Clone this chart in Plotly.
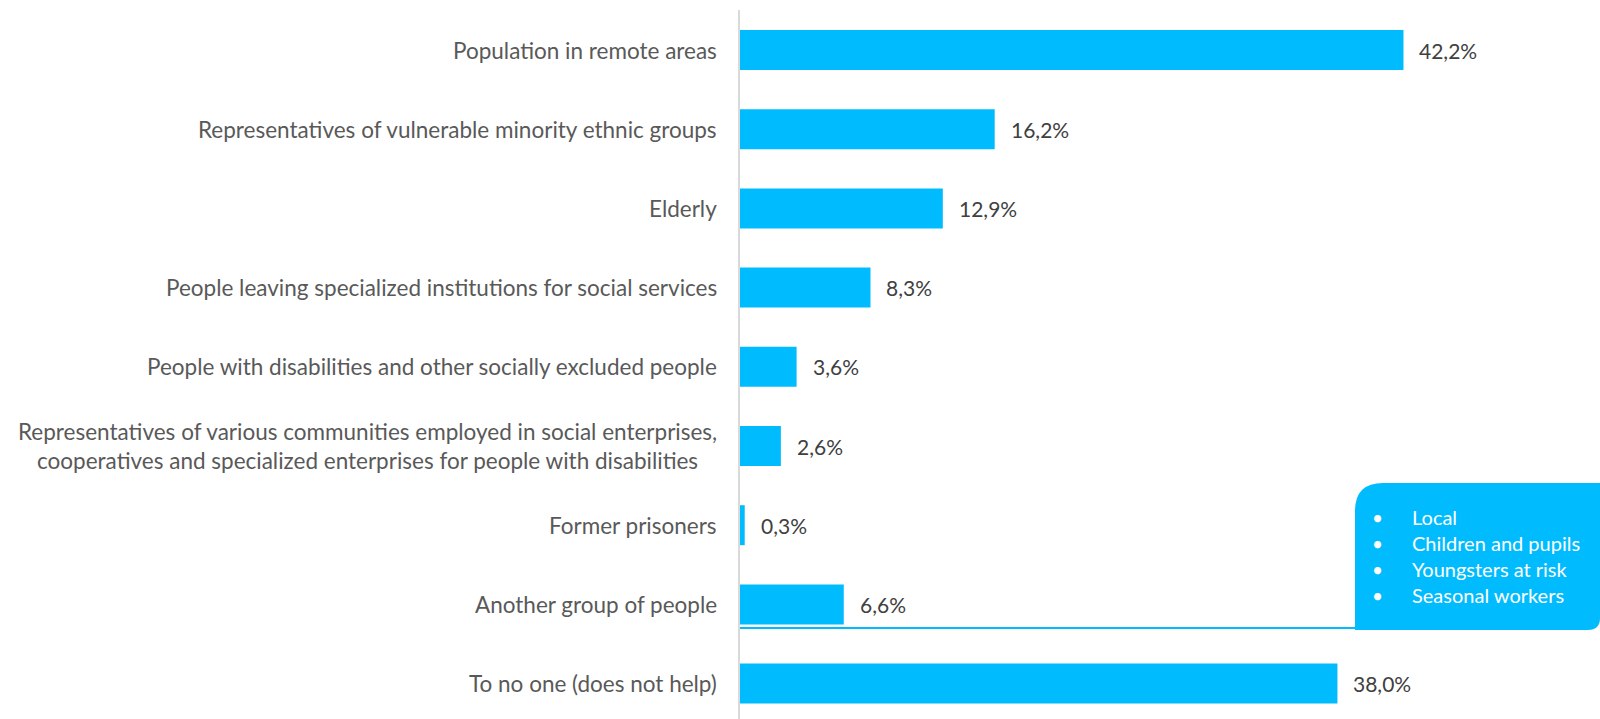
import plotly.graph_objects as go

# Target groups and the share of respondents helping each
categories = [
    "Population in remote areas",
    "Representatives of vulnerable minority ethnic groups",
    "Elderly",
    "People leaving specialized institutions for social services",
    "People with disabilities and other socially excluded people",
    "Representatives of various communities employed in social enterprises,<br>cooperatives and specialized enterprises for people with disabilities",
    "Former prisoners",
    "Another group of people",
    "To no one (does not help)",
]
shares = [42.2, 16.2, 12.9, 8.3, 3.6, 2.6, 0.3, 6.6, 38.0]

# Groups named under "Another group of people"
other_groups = ["Local", "Children and pupils", "Youngsters at risk", "Seasonal workers"]

W, H = 1600, 719
ML, MR, MT, MB = 740, 0, 10, 0
BLUE = "#00BCFF"
FONT = "Lato"


def fmt(v):
    return f"{v:.1f}".replace(".", ",") + "%"


fig = go.Figure()
fig.add_trace(go.Bar(
    x=shares,
    y=categories,
    orientation="h",
    marker=dict(color=BLUE, line=dict(width=0)),
    hoverinfo="skip",
))

annotations = []
# value labels right of each bar
for c, v in zip(categories, shares):
    annotations.append(dict(
        x=v, y=c, xref="x", yref="y", text=fmt(v), showarrow=False,
        xanchor="left", xshift=14, font=dict(family=FONT, size=21, color="#404040"),
    ))
# category labels left of the axis, lines centred
for c in categories:
    annotations.append(dict(
        x=0, y=c, xref="x", yref="y", text=c, showarrow=False,
        xanchor="right", xshift=-21, align="center",
        font=dict(family=FONT, size=22.5, color="#595959"),
    ))


# pixel -> paper helpers for the callout
pw, ph = W - ML - MR, H - MT - MB


def px(x):
    return (x - ML) / pw


def py(y):
    return (H - MB - y) / ph


bx0, bx1, by0, by1 = 1355, 1600, 483, 630
r1, r2 = 28, 12
path = (
    f"M {px(bx0)},{py(by1)} "
    f"L {px(bx0)},{py(by0 + r1)} "
    f"Q {px(bx0)},{py(by0)} {px(bx0 + r1)},{py(by0)} "
    f"L {px(bx1)},{py(by0)} "
    f"L {px(bx1)},{py(by1 - r2)} "
    f"Q {px(bx1)},{py(by1)} {px(bx1 - r2)},{py(by1)} Z"
)

shapes = [
    dict(type="line", xref="paper", yref="paper",
         x0=0, x1=px(bx0), y0=py(628), y1=py(628),
         line=dict(color=BLUE, width=2)),
    dict(type="path", xref="paper", yref="paper", path=path,
         fillcolor=BLUE, line=dict(width=0)),
]

for i, g in enumerate(other_groups):
    yy = 517 + i * 26
    annotations.append(dict(
        x=px(1377), y=py(yy), xref="paper", yref="paper", text="•",
        showarrow=False, xanchor="center", yanchor="middle",
        font=dict(family=FONT, size=19, color="white"),
    ))
    annotations.append(dict(
        x=px(1410), y=py(yy), xref="paper", yref="paper", text=g,
        showarrow=False, xanchor="left", yanchor="middle",
        font=dict(family=FONT, size=20, color="white"),
    ))

fig.update_layout(
    width=W, height=H,
    margin=dict(l=ML, r=MR, t=MT, b=MB),
    paper_bgcolor="white", plot_bgcolor="white",
    showlegend=False,
    bargap=0.495,
    xaxis=dict(range=[0, 54.7], visible=False, fixedrange=True),
    yaxis=dict(range=[8.447, -0.505], showticklabels=False, showgrid=False,
               zeroline=False, ticks="", showline=True, linecolor="#d9d9d9",
               linewidth=2, fixedrange=True),
    annotations=annotations,
    shapes=shapes,
)

fig.write_html("out.html", config={"displayModeBar": False})
